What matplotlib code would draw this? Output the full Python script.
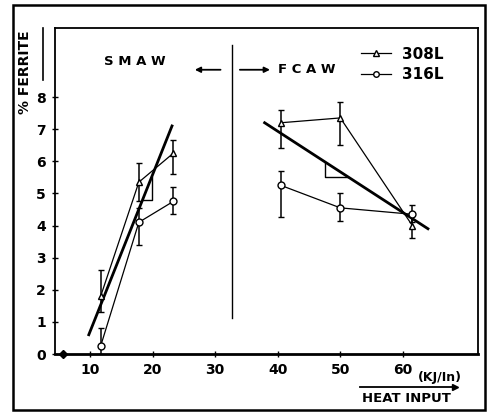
import numpy as np
import matplotlib
matplotlib.use("Agg")
import matplotlib.pyplot as plt
from matplotlib.lines import Line2D
from matplotlib.patches import Rectangle

plt.rcParams["font.family"] = "DejaVu Sans"
plt.rcParams["font.weight"] = "bold"

# SMAW data (heat input kJ/in, % ferrite, error bar low/high)
smaw_x = [11.7, 17.8, 23.3]
smaw_308 = [1.8, 5.35, 6.25]
smaw_308_lo = [1.3, 4.75, 5.6]
smaw_308_hi = [2.6, 5.95, 6.65]
smaw_316 = [0.25, 4.1, 4.75]
smaw_316_lo = [0.0, 3.4, 4.35]
smaw_316_hi = [0.8, 4.55, 5.2]

# FCAW data
fcaw_x = [40.5, 50.0, 61.5]
fcaw_308 = [7.2, 7.35, 4.0]
fcaw_308_lo = [6.4, 6.5, 3.6]
fcaw_308_hi = [7.6, 7.85, 4.4]
fcaw_316 = [5.25, 4.55, 4.35]
fcaw_316_lo = [4.25, 4.15, 4.1]
fcaw_316_hi = [5.7, 5.0, 4.65]

# fitted trend lines (end points) and slope triangles
smaw_fit_x = [9.8, 23.1]
smaw_fit_y = [0.6, 7.1]
fcaw_fit_x = [37.9, 64.0]
fcaw_fit_y = [7.2, 3.9]
smaw_tri_x = [19.9, 19.9, 18.3]
smaw_tri_y = [5.5, 4.8, 4.8]
fcaw_tri_x = [47.5, 47.5, 51.3]
fcaw_tri_y = [5.95, 5.5, 5.5]

# stray point at the origin
zero_x = [5.7]
zero_y = [0.0]

yticks = [0, 1, 2, 3, 4, 5, 6, 7, 8]
xticks = [10, 20, 30, 40, 50, 60]
xticklabels = ["10", "20", "30", "40", "50", "60"]

fig = plt.figure(figsize=(4.88, 4.16), dpi=100)
ax = fig.add_axes([55/488, 1-354/416, 423/488, 326/416])


def err(y, lo, hi):
    return [np.array(y) - np.array(lo), np.array(hi) - np.array(y)]


for xs, ys, lo, hi, mk in [(smaw_x, smaw_308, smaw_308_lo, smaw_308_hi, '^'),
                           (smaw_x, smaw_316, smaw_316_lo, smaw_316_hi, 'o'),
                           (fcaw_x, fcaw_308, fcaw_308_lo, fcaw_308_hi, '^'),
                           (fcaw_x, fcaw_316, fcaw_316_lo, fcaw_316_hi, 'o')]:
    ax.errorbar(xs, ys, yerr=err(ys, lo, hi), color='k', linewidth=0.9,
                elinewidth=1.1, capsize=2.5, capthick=1.1, marker=mk,
                markersize=5, markerfacecolor='white', markeredgecolor='k',
                markeredgewidth=1.0)

ax.plot(smaw_fit_x, smaw_fit_y, color='k', linewidth=2.0)
ax.plot(fcaw_fit_x, fcaw_fit_y, color='k', linewidth=2.0)
ax.plot(smaw_tri_x, smaw_tri_y, color='k', linewidth=1.0)
ax.plot(fcaw_tri_x, fcaw_tri_y, color='k', linewidth=1.0)
ax.plot(zero_x, zero_y, 'D', color='k', markersize=4, clip_on=False)

# divider between processes
ax.plot([32.7, 32.7], [1.12, 9.62], color='k', linewidth=1.0)
ax.annotate("", xy=(26.3, 8.85), xytext=(31.3, 8.85),
            arrowprops=dict(arrowstyle='-|>', color='k', lw=1.3,
                            mutation_scale=8))
ax.annotate("", xy=(39.2, 8.85), xytext=(33.5, 8.85),
            arrowprops=dict(arrowstyle='-|>', color='k', lw=1.3,
                            mutation_scale=8))
ax.text(17.2, 9.1, "S M A W", fontsize=9.5, fontweight='bold',
        ha='center', va='center')
ax.text(40.1, 8.85, "F C A W", fontsize=9.5, fontweight='bold',
        ha='left', va='center')

handles = [Line2D([], [], color='k', linewidth=0.9, marker='^', markersize=4,
                  markerfacecolor='white', markeredgecolor='k'),
           Line2D([], [], color='k', linewidth=0.9, marker='o', markersize=4,
                  markerfacecolor='white', markeredgecolor='k')]
ax.legend(handles, ["308L", "316L"], loc='upper left',
          bbox_to_anchor=(0.69, 0.985), frameon=False, handlelength=2.0,
          handletextpad=0.7, labelspacing=0.35,
          prop={'weight': 'bold', 'size': 11})

ax.set_xlim(4.4, 72)
ax.set_ylim(0, 10.15)
ax.set_xticks(xticks)
ax.set_xticklabels(xticklabels)
ax.set_yticks(yticks)
ax.tick_params(axis='both', direction='inout', length=5, width=1,
               labelsize=10, pad=4)
for s in ax.spines.values():
    s.set_linewidth(1.3)
ax.spines['bottom'].set_linewidth(2.0)

# y label and x label decorations in figure coords
fig.text(25/488, 1-72/416, "% FERRITE", rotation=90, fontsize=10,
         fontweight='bold', ha='center', va='center')
fig.add_artist(Line2D([43/488, 43/488], [1-28/416, 1-80/416], color='k',
                      linewidth=1.2))
fig.text(440/488, 1-378/416, "(KJ/In)", fontsize=9, fontweight='bold',
         ha='center', va='center')
fig.text(406/488, 1-398/416, "HEAT INPUT", fontsize=9.5, fontweight='bold',
         ha='center', va='center')
fig.add_artist(Line2D([360/488, 455/488], [1-387/416, 1-387/416], color='k',
                      linewidth=1.3))
fig.add_artist(Line2D([455/488], [1-387/416], marker='>', color='k',
                      markersize=4, linestyle='none'))

# outer frame
fig.add_artist(Rectangle((13/488, 1-410/416), 472/488, 405/416,
                         transform=fig.transFigure, fill=False,
                         edgecolor='k', linewidth=1.8))

fig.savefig("out.png", dpi=100)
